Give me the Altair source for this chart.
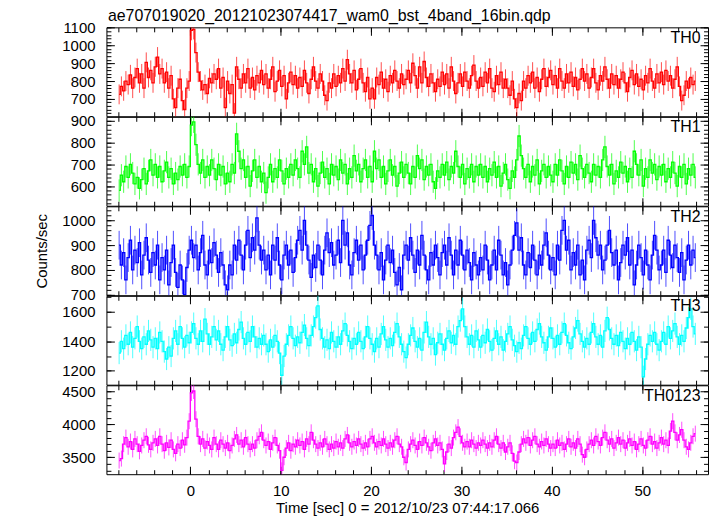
import altair as alt
import pandas as pd

TIME_START = -8.0
BIN_WIDTH = 0.25

TH0 = [
    725, 770, 745, 800, 780, 835, 760, 820, 870, 790, 840, 760, 905, 820, 860, 790,
    880, 935, 840, 870, 790, 850, 760, 830, 700, 650, 760, 810, 690, 640, 760, 800,
    1085, 1090, 960, 850, 800, 750, 780, 730, 815, 790, 840, 810, 870, 760, 820, 650,
    800, 730, 780, 620, 880, 810, 760, 840, 790, 870, 760, 820, 750, 830, 790, 860,
    780, 840, 760, 810, 880, 740, 800, 860, 770, 830, 700, 790, 850, 780, 830, 760,
    820, 770, 860, 790, 730, 810, 880, 800, 760, 840, 800, 720, 690, 790, 760, 840,
    770, 830, 790, 870, 800, 920, 840, 790, 860, 750, 810, 870, 790, 740, 820, 700,
    760, 700, 820, 780, 850, 760, 810, 740, 830, 790, 860, 800, 760, 840, 780, 810,
    860, 790, 900, 830, 760, 880, 790, 910, 820, 770, 840, 790, 740, 810, 770, 850,
    780, 840, 760, 880, 800, 730, 790, 840, 770, 850, 800, 760, 830, 890, 800, 760,
    820, 770, 850, 790, 870, 760, 740, 830, 780, 850, 760, 810, 760, 720, 800, 700,
    650, 730, 690, 800, 760, 830, 790, 850, 760, 820, 740, 810, 870, 770, 820, 860,
    780, 830, 760, 870, 800, 760, 840, 790, 850, 770, 820, 750, 810, 870, 800, 840,
    760, 820, 870, 790, 750, 830, 800, 880, 810, 760, 840, 780, 830, 760, 810, 850,
    790, 740, 820, 860, 780, 840, 770, 810, 750, 830, 790, 870, 800, 760, 840, 790,
    850, 780, 860, 800, 830, 760, 810, 880, 770, 690, 720, 800, 760, 820, 780, 800,
]

TH1 = [
    580, 650, 620, 690, 640, 700, 660, 610, 640, 590, 630, 680, 610, 670, 720, 650,
    700, 640, 690, 620, 670, 710, 640, 680, 610, 660, 630, 690, 650, 700, 640, 690,
    880, 895, 790, 700, 660, 720, 640, 690, 650, 720, 680, 630, 700, 650, 690, 610,
    660, 620, 700, 660, 840, 760, 680, 720, 640, 690, 600, 670, 720, 640, 690, 620,
    660, 570, 640, 700, 620, 680, 640, 720, 670, 610, 680, 640, 700, 650, 720, 680,
    640, 760, 700, 780, 660, 700, 620, 680, 600, 660, 710, 640, 680, 610, 700, 650,
    690, 630, 720, 660, 700, 610, 680, 640, 740, 670, 700, 620, 680, 720, 640, 690,
    620, 760, 680, 720, 640, 690, 610, 670, 720, 650, 690, 600, 660, 710, 640, 700,
    660, 610, 690, 640, 740, 680, 720, 630, 690, 650, 700, 620, 590, 670, 640, 700,
    650, 710, 630, 690, 660, 760, 690, 640, 700, 610, 680, 640, 700, 620, 690, 650,
    700, 640, 690, 620, 680, 650, 710, 640, 690, 600, 660, 700, 630, 590, 670, 640,
    720, 830, 740, 680, 640, 700, 620, 690, 650, 720, 610, 670, 700, 640, 690, 650,
    620, 700, 650, 720, 670, 610, 690, 640, 710, 660, 700, 630, 740, 680, 640, 700,
    660, 620, 700, 650, 690, 640, 720, 780, 690, 650, 700, 610, 670, 640, 710, 660,
    690, 620, 680, 640, 760, 700, 650, 720, 600, 680, 640, 720, 660, 700, 630, 690,
    650, 700, 620, 680, 640, 710, 660, 600, 690, 640, 700, 610, 680, 650, 700, 640,
]

TH2 = [
    900, 820, 870, 760, 850, 920, 800, 880, 830, 910, 780, 860, 930, 840, 790, 870,
    820, 900, 760, 850, 800, 880, 740, 830, 900, 790, 730, 820, 760, 700, 810, 880,
    920, 850, 900, 800, 870, 940, 820, 780, 880, 830, 910, 860, 790, 870, 820, 740,
    720, 820, 780, 900, 840, 920, 860, 800, 900, 960, 850, 930, 880, 1010, 900, 840,
    880, 800, 860, 780, 900, 840, 930, 820, 760, 860, 900, 820, 880, 790, 850, 920,
    960, 880, 1000, 900, 840, 770, 860, 810, 900, 840, 780, 880, 950, 870, 910, 820,
    860, 920, 830, 1000, 900, 950, 820, 780, 870, 920, 840, 900, 800, 860, 920, 980,
    1020, 900, 860, 800, 870, 760, 840, 900, 830, 880, 790, 740, 810, 720, 860, 900,
    840, 930, 860, 790, 880, 820, 940, 860, 800, 760, 870, 820, 900, 850, 780, 870,
    900, 820, 930, 860, 780, 880, 820, 920, 860, 800, 880, 830, 760, 870, 820, 780,
    850, 800, 900, 840, 760, 820, 880, 800, 920, 860, 780, 830, 740, 820, 880, 940,
    990, 880, 930, 820, 780, 870, 810, 900, 840, 780, 860, 820, 900, 950, 860, 800,
    850, 780, 900, 840, 960, 1000, 880, 920, 800, 870, 820, 900, 780, 840, 760, 880,
    920, 850, 1000, 930, 860, 900, 800, 840, 900, 960, 870, 820, 880, 760, 830, 900,
    860, 930, 820, 880, 740, 820, 900, 850, 780, 880, 820, 760, 860, 940, 880, 800,
    820, 880, 790, 920, 860, 810, 900, 850, 790, 870, 760, 840, 900, 820, 880, 850,
]

TH3 = [
    1320, 1400, 1350, 1440, 1380, 1460, 1360, 1420, 1500, 1400, 1350, 1430, 1380, 1470, 1410, 1360,
    1420, 1350, 1460, 1400, 1330, 1280, 1360, 1300, 1420, 1470, 1380, 1500, 1420, 1360, 1440, 1390,
    1460, 1520, 1420, 1380, 1470, 1400, 1550, 1450, 1380, 1430, 1500, 1410, 1470, 1380, 1340, 1430,
    1500, 1410, 1370, 1450, 1390, 1480, 1530, 1420, 1380, 1460, 1400, 1500, 1430, 1360, 1420, 1380,
    1440, 1380, 1330, 1410, 1360, 1440, 1400, 1320, 1170, 1300, 1380, 1440, 1500, 1420, 1370, 1430,
    1390, 1460, 1510, 1420, 1370, 1440, 1500, 1560, 1640, 1480, 1420, 1360, 1410, 1350, 1460, 1400,
    1360, 1430, 1380, 1470, 1520, 1440, 1400, 1350, 1420, 1380, 1460, 1400, 1350, 1430, 1500, 1420,
    1380, 1330, 1420, 1360, 1450, 1500, 1410, 1360, 1420, 1370, 1460, 1520, 1430, 1380, 1330, 1290,
    1380, 1440, 1490, 1400, 1360, 1420, 1340, 1460, 1530, 1430, 1380, 1420, 1310, 1390, 1450, 1380,
    1340, 1420, 1470, 1390, 1440, 1380, 1500, 1540, 1620, 1500, 1430, 1380, 1440, 1360, 1470, 1410,
    1360, 1440, 1390, 1480, 1400, 1340, 1420, 1470, 1380, 1430, 1340, 1400, 1450, 1500, 1410, 1370,
    1330, 1390, 1350, 1440, 1500, 1420, 1380, 1460, 1400, 1480, 1520, 1430, 1390, 1340, 1430, 1490,
    1420, 1360, 1440, 1380, 1460, 1520, 1440, 1390, 1350, 1430, 1490, 1540, 1450, 1400, 1360, 1420,
    1380, 1460, 1520, 1430, 1380, 1440, 1360, 1470, 1560, 1480, 1420, 1380, 1440, 1370, 1460, 1400,
    1350, 1420, 1380, 1460, 1400, 1340, 1430, 1360, 1160, 1280, 1380, 1440, 1400, 1460, 1380, 1340,
    1400, 1460, 1380, 1500, 1420, 1470, 1520, 1430, 1380, 1440, 1400, 1490, 1560, 1620, 1500, 1450,
]

TH0123 = [
    3450, 3480, 3700, 3800, 3660, 3740, 3620, 3780, 3700, 3590, 3680, 3760, 3820, 3690, 3620, 3720,
    3780, 3680, 3820, 3700, 3600, 3720, 3650, 3760, 3620, 3560, 3700, 3640, 3760, 3690, 3800, 4050,
    4480, 4510, 4080, 3820, 3700, 3780, 3640, 3740, 3680, 3620, 3800, 3700, 3620, 3760, 3700, 3640,
    3720, 3600, 3680, 3780, 3840, 3700, 3760, 3660, 3800, 3700, 3620, 3700, 3640, 3760, 3820, 3880,
    3760, 3680, 3740, 3620, 3720, 3800, 3680, 3600, 3300, 3500, 3640, 3720, 3600, 3700, 3660, 3760,
    3680, 3740, 3620, 3780, 3700, 3880, 3760, 3700, 3640, 3720, 3660, 3780, 3700, 3620, 3700, 3640,
    3740, 3660, 3720, 3640, 3780, 3840, 3720, 3660, 3740, 3680, 3780, 3700, 3640, 3720, 3660, 3780,
    3820, 3720, 3660, 3740, 3680, 3780, 3700, 3640, 3720, 3660, 3760, 3820, 3700, 3660, 3500, 3420,
    3620, 3700, 3760, 3680, 3620, 3740, 3680, 3800, 3720, 3660, 3600, 3720, 3780, 3680, 3720, 3620,
    3400, 3580, 3700, 3640, 3800, 3880, 3960, 3820, 3720, 3660, 3740, 3660, 3760, 3700, 3640, 3720,
    3680, 3760, 3700, 3640, 3720, 3660, 3760, 3820, 3700, 3640, 3720, 3580, 3660, 3720, 3560, 3440,
    3420, 3580, 3700, 3780, 3720, 3800, 3680, 3760, 3820, 3700, 3660, 3740, 3680, 3780, 3700, 3640,
    3700, 3640, 3760, 3680, 3720, 3620, 3700, 3780, 3660, 3720, 3640, 3780, 3700, 3540, 3500, 3620,
    3700, 3760, 3680, 3820, 3740, 3680, 3800, 3880, 3760, 3700, 3780, 3640, 3720, 3800, 3700, 3760,
    3640, 3720, 3780, 3680, 3740, 3620, 3700, 3780, 3680, 3640, 3760, 3820, 3700, 3740, 3640, 3720,
    3800, 3700, 3760, 3680, 3900, 4050, 3880, 3760, 3840, 3920, 3760, 3660, 3620, 3720, 3820, 3860,
]

# error bar half-lengths (counts/sec)
ERRORS = {"TH0": 56, "TH1": 51, "TH2": 58, "TH3": 75, "TH0123": 122}

for s in (TH0, TH1, TH2, TH3, TH0123):
    assert len(s) == 256, len(s)

TITLE = "ae707019020_20121023074417_wam0_bst_4band_16bin.qdp"
XTITLE = "Time [sec] 0 = 2012/10/23 07:44:17.066"
YTITLE = "Counts/sec"

XDOM = [-9.28, 57.28]
X_MAJOR = [0, 10, 20, 30, 40, 50]
X_MINOR = list(range(-8, 57, 2))

FONT = "Liberation Sans"
W = 605
H = 89.4
MAJ = 8
MIN = 4.5

times = [TIME_START + BIN_WIDTH * (i + 0.5) for i in range(256)]


def axis(orient, values, size, labels=False, title=None, label_pad=11.5, title_pad=0):
    kw = dict(
        orient=orient, values=values, tickSize=size, offset=-size,
        labels=labels, domain=False, grid=False, ticks=True,
        tickColor="black", tickWidth=1, format="d",
        labelFont=FONT, labelFontSize=15, labelColor="black",
        labelPadding=label_pad, labelFlush=False, labelOverlap=False,
        title=title,
    )
    if title is not None:
        kw.update(titleFont=FONT, titleFontSize=15, titleFontWeight="normal",
                  titleColor="black", titlePadding=title_pad)
    return alt.Axis(**kw)


def panel(name, vals, color, ydom, ymaj, ymin, bottom=False, ytitle=False, title=False):
    df = pd.DataFrame({"t": times, "v": vals})
    err = ERRORS[name]
    df["lo"] = df["v"] - err
    df["hi"] = df["v"] + err
    xs = alt.Scale(domain=XDOM, nice=False, zero=False)
    ys = alt.Scale(domain=ydom, nice=False, zero=False)
    dummy = pd.DataFrame({"t": [0.0], "v": [ymaj[0]]})

    xa_major = axis("bottom", X_MAJOR, MAJ, labels=bottom,
                    title=XTITLE if bottom else None, label_pad=9, title_pad=3)
    ya_major = axis("left", ymaj, MAJ, labels=True,
                    title=YTITLE if ytitle else None, title_pad=12)

    bars = alt.Chart(df).mark_rule(color=color, opacity=0.7, strokeWidth=1, clip=True).encode(
        x=alt.X("t:Q", scale=xs, axis=xa_major),
        y=alt.Y("lo:Q", scale=ys, axis=ya_major),
        y2="hi:Q",
    )
    line = alt.Chart(df).mark_line(color=color, interpolate="step", strokeWidth=1.3, clip=True).encode(
        x=alt.X("t:Q", scale=xs, axis=None),
        y=alt.Y("v:Q", scale=ys, axis=None),
    )

    def dl(xa, ya):
        return alt.Chart(dummy).mark_point(opacity=0).encode(
            x=alt.X("t:Q", scale=xs, axis=xa),
            y=alt.Y("v:Q", scale=ys, axis=ya),
        )

    d1 = dl(axis("bottom", X_MINOR, MIN), axis("left", ymin, MIN))
    d2 = dl(axis("top", X_MAJOR, MAJ), axis("right", ymaj, MAJ))
    d3 = dl(axis("top", X_MINOR, MIN), axis("right", ymin, MIN))

    label = alt.Chart(dummy).mark_text(
        align="right", baseline="middle", font=FONT, fontSize=16, color="black"
    ).encode(x=alt.value(W - 7.5), y=alt.value(10.5), text=alt.value(name))

    props = dict(width=W, height=H)
    if title:
        props["title"] = alt.TitleParams(
            text=TITLE, anchor="start", frame="group", font=FONT, fontSize=16,
            fontWeight="normal", color="black", offset=-3, dx=1.5,
        )
    return alt.layer(bars, line, d1, d2, d3, label).resolve_axis(
        x="independent", y="independent"
    ).properties(**props)


p0 = panel("TH0", TH0, "#ff0000", [602, 1102], [700, 800, 900, 1000, 1100],
           list(range(620, 1101, 20)), title=True)
p1 = panel("TH1", TH1, "#00ff00", [510, 918], [600, 700, 800, 900],
           list(range(520, 901, 20)))
p2 = panel("TH2", TH2, "#0000ff", [698, 1057], [700, 800, 900, 1000],
           list(range(700, 1041, 20)), ytitle=True)
p3 = panel("TH3", TH3, "#00ffff", [1106, 1708], [1200, 1400, 1600],
           list(range(1200, 1701, 100)))
p4 = panel("TH0123", TH0123, "#ff00ff", [3242, 4597], [3500, 4000, 4500],
           list(range(3300, 4501, 100)), bottom=True)

chart = alt.vconcat(p0, p1, p2, p3, p4, spacing=0, bounds="flush").configure_view(
    stroke="black", strokeWidth=1
).properties(
    padding={"left": 26, "top": -3, "right": 0, "bottom": 0},
    background="white",
)

chart.save("out.html", embed_options={"renderer": "svg", "actions": False})
